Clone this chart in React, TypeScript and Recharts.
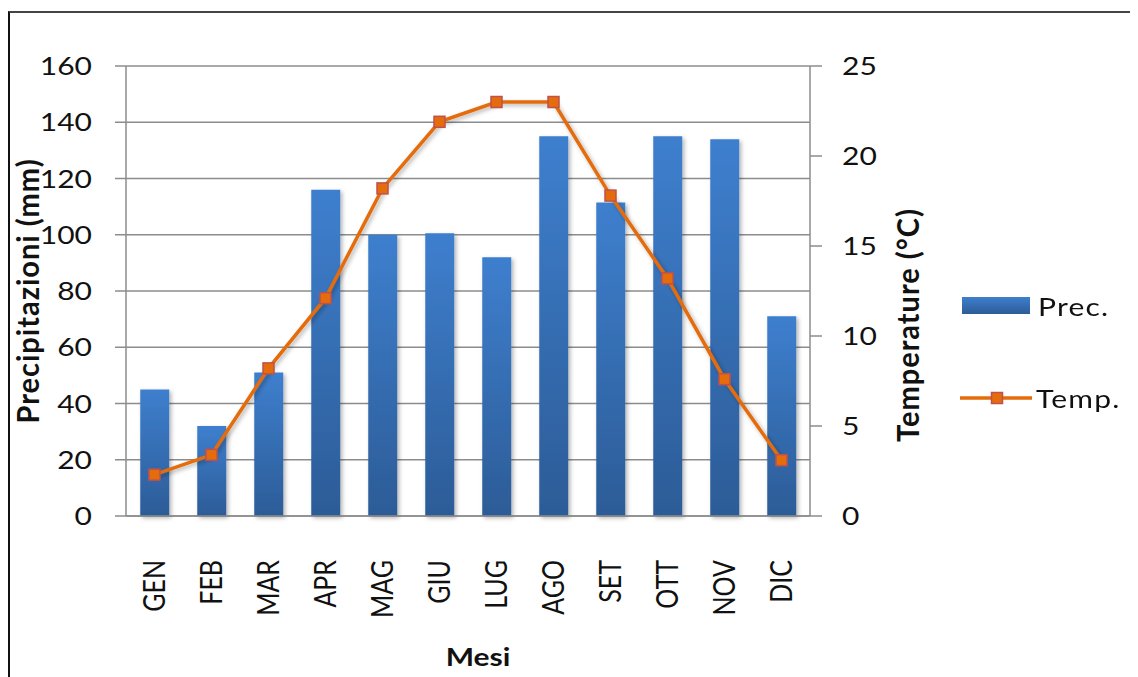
import React from 'react';
import { ComposedChart, Bar, Line, XAxis, YAxis, CartesianGrid } from 'recharts';

const months = ['GEN', 'FEB', 'MAR', 'APR', 'MAG', 'GIU', 'LUG', 'AGO', 'SET', 'OTT', 'NOV', 'DIC'];
const precipitation = [45, 32, 51, 116, 100, 100.5, 92, 135, 111.5, 135, 134, 71];
const temperature = [2.3, 3.4, 8.2, 12.1, 18.2, 21.9, 23, 23, 17.8, 13.2, 7.6, 3.1];
const precTicks = [0, 20, 40, 60, 80, 100, 120, 140, 160];
const tempTicks = [0, 5, 10, 15, 20, 25];

const data = months.map((month, i) => ({
  month,
  prec: precipitation[i],
  temp: temperature[i],
}));

const FONT = 'Lato, "Open Sans", sans-serif';
const STRETCH = 1.2;
const GRID = '#8c8c8c';
const ORANGE = '#e46c0a';
const MARKER_EDGE = '#c0504d';

const LeftTick = ({ x, y, payload }: any) => (
  <g transform={`translate(${x},${y}) scale(${STRETCH},1)`}>
    <text textAnchor="end" dy="0.36em" fontFamily={FONT} fontSize={25} fill="#111">
      {payload.value}
    </text>
  </g>
);

const RightTick = ({ x, y, payload }: any) => (
  <g transform={`translate(${x},${y}) scale(${STRETCH},1)`}>
    <text textAnchor="start" dy="0.36em" fontFamily={FONT} fontSize={25} fill="#111">
      {payload.value}
    </text>
  </g>
);

const MonthTick = ({ x, y, payload }: any) => (
  <g transform={`translate(${x},${y}) rotate(-90) scale(1,${STRETCH})`}>
    <text textAnchor="end" dy="0.36em" fontFamily={FONT} fontSize={25} fill="#111">
      {payload.value}
    </text>
  </g>
);

// bold axis titles, rotated for the value axes
const verticalTitle = (text: string, dx: number, dy: number) => (props: any) => {
  const { x, y, height } = props.viewBox;
  return (
    <g transform={`translate(${x + dx},${y + height / 2 + dy}) rotate(-90) scale(1,1.05)`}>
      <text
        textAnchor="middle"
        dy="0.36em"
        fontFamily={FONT}
        fontSize={29}
        letterSpacing={1}
        fontWeight="bold"
        fill="#111"
      >
        {text}
      </text>
    </g>
  );
};

const bottomTitle = (props: any) => {
  const { x, y, width } = props.viewBox;
  return (
    <g transform={`translate(${x + width / 2 + 10},${y + 141}) scale(${STRETCH},1)`}>
      <text textAnchor="middle" dy="0.36em" fontFamily={FONT} fontSize={25} fontWeight="bold" fill="#111">
        Mesi
      </text>
    </g>
  );
};

const SquareDot = ({ cx, cy, index }: any) => (
  <rect
    key={index}
    x={cx - 5.5}
    y={cy - 5.5}
    width={11}
    height={11}
    fill={ORANGE}
    stroke={MARKER_EDGE}
    strokeWidth={1.5}
  />
);

const legendText: React.CSSProperties = {
  position: 'absolute',
  fontFamily: FONT,
  fontSize: 25,
  lineHeight: '24px',
  letterSpacing: 1,
  color: '#111',
  transform: `scaleX(${STRETCH})`,
  transformOrigin: 'left center',
};

const App: React.FC = () => {
  return (
    <div style={{ position: 'relative', width: 1130, height: 669, background: '#fff' }}>
      <div
        style={{
          position: 'absolute',
          left: 0,
          top: 3,
          width: 1130,
          height: 666,
          borderTop: '2px solid #444',
          borderLeft: '2px solid #111',
          boxSizing: 'border-box',
        }}
      />
      <ComposedChart
        width={1130}
        height={669}
        data={data}
        margin={{ top: 58, right: 208, bottom: 0, left: 0 }}
        barCategoryGap="25%"
        style={{ position: 'absolute', left: 0, top: 0 }}
      >
        <defs>
          <linearGradient id="precFill" x1="0" y1="0" x2="0" y2="1">
            <stop offset="0%" stopColor="#3e7fce" />
            <stop offset="100%" stopColor="#2c5c97" />
          </linearGradient>
          <filter id="softShadow" x="-20%" y="-20%" width="140%" height="140%">
            <feDropShadow dx="2" dy="2" stdDeviation="2" floodColor="#000" floodOpacity="0.3" />
          </filter>
        </defs>
        <CartesianGrid yAxisId="prec" vertical={false} stroke={GRID} strokeWidth={1.5} />
        <XAxis
          dataKey="month"
          height={161}
          axisLine={{ stroke: GRID, strokeWidth: 1.5 }}
          tickLine={false}
          tickSize={0}
          tickMargin={44}
          tick={<MonthTick />}
          interval={0}
          label={{ content: bottomTitle }}
        />
        <YAxis
          yAxisId="prec"
          orientation="left"
          width={118}
          domain={[0, 160]}
          ticks={precTicks}
          axisLine={{ stroke: GRID, strokeWidth: 1.5 }}
          tickLine={{ stroke: GRID, strokeWidth: 1.5 }}
          tickSize={11}
          tickMargin={23}
          tick={<LeftTick />}
          label={{ content: verticalTitle('Precipitazioni (mm)', 20, 0) }}
        />
        <YAxis
          yAxisId="temp"
          orientation="right"
          width={120}
          domain={[0, 25]}
          ticks={tempTicks}
          axisLine={{ stroke: GRID, strokeWidth: 1.5 }}
          tickLine={{ stroke: GRID, strokeWidth: 1.5 }}
          tickSize={12}
          tickMargin={20}
          tick={<RightTick />}
          label={{ content: verticalTitle('Temperature (°C)', 98, 34) }}
        />
        <Bar
          yAxisId="prec"
          dataKey="prec"
          fill="url(#precFill)"
          filter="url(#softShadow)"
          isAnimationActive={false}
        />
        <Line
          yAxisId="temp"
          dataKey="temp"
          type="linear"
          stroke={ORANGE}
          strokeWidth={3.5}
          dot={<SquareDot />}
          activeDot={false}
          filter="url(#softShadow)"
          isAnimationActive={false}
        />
      </ComposedChart>

      {/* legend */}
      <div style={{ position: 'absolute', left: 954, top: 289, width: 68, height: 17, background: 'linear-gradient(#3e7fce, #2c5c97)' }} />
      <div style={{ ...legendText, left: 1030, top: 286 }}>Prec.</div>
      <svg style={{ position: 'absolute', left: 950, top: 380 }} width={76} height={20}>
        <line x1={2} y1={10} x2={74} y2={10} stroke={ORANGE} strokeWidth={3.5} />
        <rect x={33.5} y={4.5} width={11} height={11} fill={ORANGE} stroke={MARKER_EDGE} strokeWidth={1.5} />
      </svg>
      <div style={{ ...legendText, left: 1028, top: 378 }}>Temp.</div>
    </div>
  );
};

export default App;
